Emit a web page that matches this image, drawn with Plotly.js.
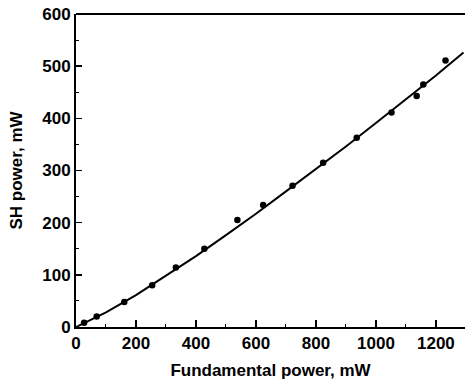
<!DOCTYPE html>
<html>
<head>
<meta charset="utf-8">
<script src="https://cdn.plot.ly/plotly-3.0.1.min.js"></script>
<style>html,body{margin:0;padding:0;background:#fff;}#chart{width:465px;height:384px;}</style>
</head>
<body>
<div id="chart"></div>
<script>
// Measured data points (fundamental power, mW -> SH power, mW)
var fundamental = [27, 69, 161, 254, 333, 428, 538, 624, 722, 824, 936, 1052, 1136, 1158, 1232];
var shPower     = [8, 20, 48, 80, 114, 150, 205, 234, 271, 315, 363, 411, 443, 465, 511];

// Fit curve
var fitX = [0, 100, 200, 300, 400, 500, 600, 700, 800, 900, 1000, 1100, 1200, 1292];
var fitY = [0, 28, 61, 98, 136, 176, 217, 260, 303, 346, 391, 436, 482, 526];

var xTickVals = [0, 200, 400, 600, 800, 1000, 1200];
var yTickVals = [0, 100, 200, 300, 400, 500, 600];

var font = {family: 'Liberation Sans, Arial, sans-serif', color: '#000'};

var traces = [
  {x: fitX, y: fitY, mode: 'lines', type: 'scatter',
   line: {color: '#000', width: 2}, hoverinfo: 'skip'},
  {x: fundamental, y: shPower, mode: 'markers', type: 'scatter',
   marker: {color: '#000', size: 6.5}}
];

var layout = {
  width: 465, height: 384,
  margin: {l: 76, r: 0, t: 14, b: 57},
  paper_bgcolor: '#fff', plot_bgcolor: '#fff',
  showlegend: false,
  font: font,
  xaxis: {
    range: [0, 1297], showgrid: false, zeroline: false,
    showline: true, linecolor: '#000', linewidth: 2,
    ticks: 'inside', ticklen: 7, tickwidth: 1.5, tickcolor: '#000',
    tickvals: xTickVals,
    tickfont: {family: font.family, size: 17, color: '#000', weight: 'bold'},
    minor: {dtick: 100, ticks: 'inside', ticklen: 3, tickwidth: 1, tickcolor: '#000', showgrid: false},
    title: {text: '<b>Fundamental power, mW</b>', font: {family: font.family, size: 17, color: '#000'}, standoff: 12}
  },
  yaxis: {
    range: [0, 600], showgrid: false, zeroline: false,
    showline: true, linecolor: '#000', linewidth: 2,
    ticks: 'inside', ticklen: 6, tickwidth: 1.5, tickcolor: '#000',
    tickvals: yTickVals,
    tickfont: {family: font.family, size: 17, color: '#000', weight: 'bold'},
    minor: {dtick: 50, ticks: 'inside', ticklen: 3, tickwidth: 1, tickcolor: '#000', showgrid: false},
    title: {text: '<b>SH power, mW</b>', font: {family: font.family, size: 17, color: '#000'}, standoff: 15}
  },
  shapes: [
    {type: 'line', xref: 'paper', yref: 'paper', x0: 0, x1: 1, y0: 1, y1: 1,
     line: {color: '#000', width: 2}}
  ]
};

Plotly.newPlot('chart', traces, layout, {staticPlot: true, displayModeBar: false});
</script>
</body>
</html>
